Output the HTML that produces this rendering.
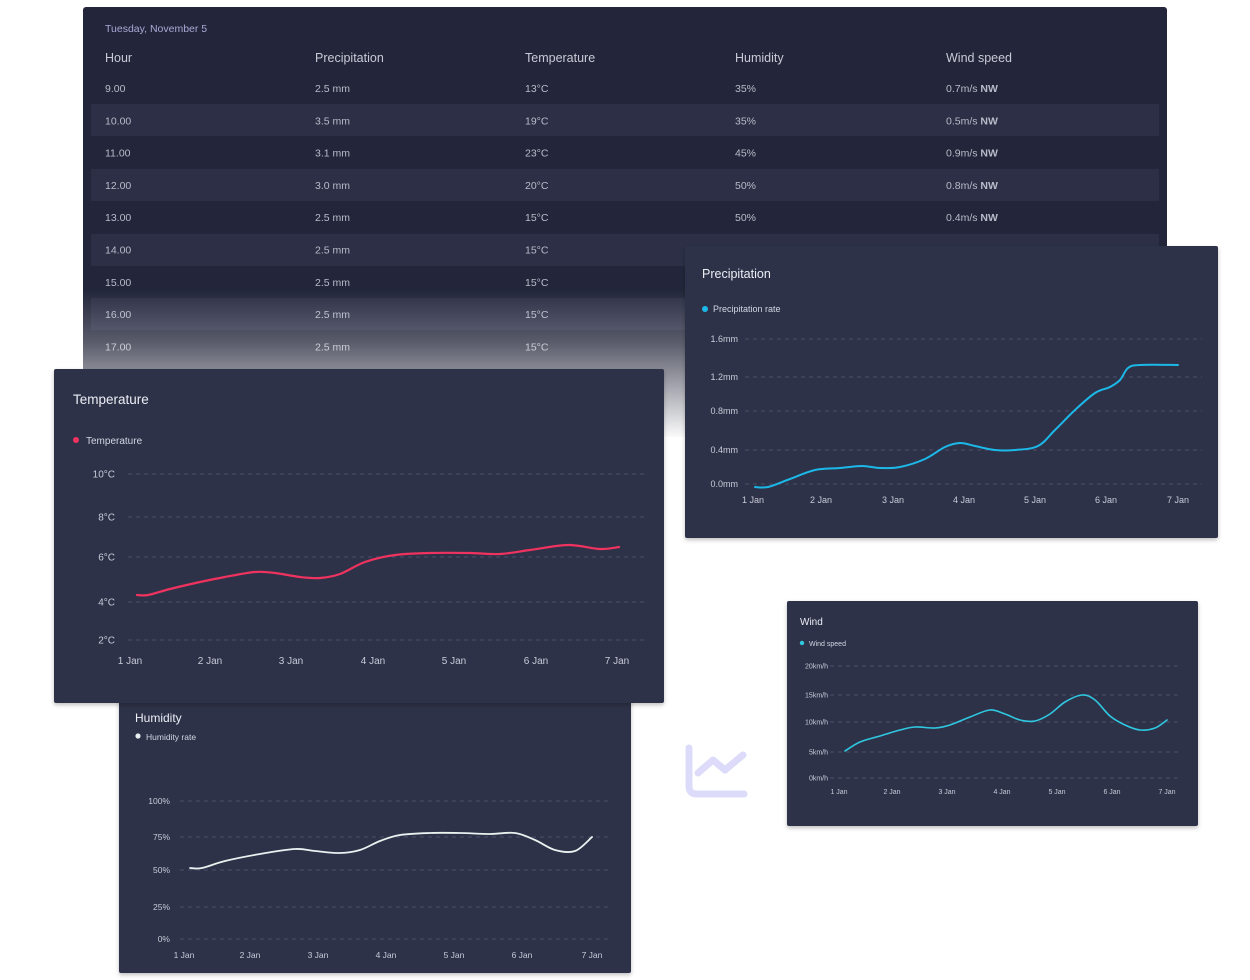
<!DOCTYPE html>
<html><head><meta charset="utf-8"><style>
body{margin:0;background:#fff;width:1250px;height:980px;overflow:hidden}
svg{display:block;font-family:"Liberation Sans",sans-serif}
</style></head><body>
<svg id="s" width="1250" height="980" viewBox="0 0 1250 980" xmlns="http://www.w3.org/2000/svg">
<defs>
<linearGradient id="fade" x1="0" y1="0" x2="0" y2="1">
<stop offset="0" stop-color="#fff" stop-opacity="0"/>
<stop offset="0.35" stop-color="#fff" stop-opacity="0.25"/>
<stop offset="1" stop-color="#fff" stop-opacity="1"/>
</linearGradient>
<filter id="sh" x="-5%" y="-5%" width="110%" height="115%"><feDropShadow dx="0" dy="2" stdDeviation="2" flood-opacity="0.25"/></filter>
</defs>
<!-- table -->
<rect x="83" y="7" width="1084" height="430" rx="3" fill="#23263a"/>
<g fill="#2c2f46">
<rect x="91" y="104" width="1068" height="32"/>
<rect x="91" y="169" width="1068" height="32"/>
<rect x="91" y="234" width="1068" height="32"/>
<rect x="91" y="298" width="1068" height="32"/>
</g>
<text x="105" y="32" font-size="10.5" fill="#a9a8d6">Tuesday, November 5</text>
<g font-size="12.5" fill="#c9cad6">
<text x="105" y="62">Hour</text><text x="315" y="62">Precipitation</text><text x="525" y="62">Temperature</text><text x="735" y="62">Humidity</text><text x="946" y="62">Wind speed</text>
</g>
<g id="rows" font-size="10.5" fill="#b9bbc9"></g>
<rect x="80" y="290" width="1090" height="150" fill="url(#fade)"/>

<!-- precipitation -->
<rect x="685" y="246" width="533" height="292" rx="2" fill="#2e3149" filter="url(#sh)"/>
<text x="702" y="278" font-size="12.5" fill="#eceef4">Precipitation</text>
<circle cx="705" cy="309" r="3" fill="#1bb8e8"/><text x="713" y="312" font-size="9" fill="#d4d6e2">Precipitation rate</text>
<g id="pg"></g>

<!-- humidity -->
<rect x="119" y="688" width="512" height="285" rx="2" fill="#2e3149" filter="url(#sh)"/>
<text x="135" y="722" font-size="12" fill="#eceef4">Humidity</text>
<circle cx="138" cy="736" r="2.6" fill="#e8f0ef"/><text x="146" y="740" font-size="8.5" fill="#d4d6e2">Humidity rate</text>
<g id="hg"></g>

<!-- temperature -->
<rect x="54" y="369" width="610" height="334" rx="2" fill="#2e3149" filter="url(#sh)"/>
<text x="73" y="404" font-size="13.5" fill="#eceef4">Temperature</text>
<circle cx="76" cy="440" r="3" fill="#f0325f"/><text x="86" y="444" font-size="10" fill="#d4d6e2">Temperature</text>
<g id="tg"></g>

<!-- wind -->
<path d="M789 730 A30 40 0 0 1 789 805" stroke="#c8c9d2" stroke-width="6" fill="none" opacity="0.6"/>
<rect x="787" y="601" width="411" height="225" rx="2" fill="#2e3149" filter="url(#sh)"/>
<text x="800" y="625" font-size="10" fill="#eceef4">Wind</text>
<circle cx="802" cy="643" r="2.2" fill="#2ec9e0"/><text x="809" y="646" font-size="7" fill="#d4d6e2">Wind speed</text>
<g id="wg"></g>

<!-- icon -->
<path d="M689 748 V786 Q689 794 697 794 H744 M698 773 L713 760 L725 770 L743 755" stroke="#dcdcfa" stroke-width="7" fill="none" stroke-linecap="round" stroke-linejoin="round"/>
</svg>
<script>
const NS="http://www.w3.org/2000/svg";
function el(p,t,a,txt){const e=document.createElementNS(NS,t);for(const k in a)e.setAttribute(k,a[k]);if(txt!==undefined)e.textContent=txt;p.appendChild(e);return e;}
const rows=[["9.00","2.5 mm","13°C","35%","0.7m/s"],["10.00","3.5 mm","19°C","35%","0.5m/s"],["11.00","3.1 mm","23°C","45%","0.9m/s"],["12.00","3.0 mm","20°C","50%","0.8m/s"],["13.00","2.5 mm","15°C","50%","0.4m/s"],["14.00","2.5 mm","15°C","50%","0.4m/s"],["15.00","2.5 mm","15°C","50%","0.4m/s"],["16.00","2.5 mm","15°C","50%","0.4m/s"],["17.00","2.5 mm","15°C","50%","0.4m/s"]];
const R=document.getElementById("rows"),xs=[105,315,525,735,946];
rows.forEach((r,i)=>{const y=92+i*32.3;r.forEach((v,j)=>{const t=el(R,"text",{x:xs[j],y:y},v);if(j==4){el(t,"tspan",{"font-weight":"bold"}," NW");}});});
function smooth(p){let d="M"+p[0][0]+" "+p[0][1];for(let i=0;i<p.length-1;i++){const p0=p[i-1]||p[i],p1=p[i],p2=p[i+1],p3=p[i+2]||p2;const c1=[p1[0]+(p2[0]-p0[0])/6,p1[1]+(p2[1]-p0[1])/6],c2=[p2[0]-(p3[0]-p1[0])/6,p2[1]-(p3[1]-p1[1])/6];d+=` C${c1[0]} ${c1[1]} ${c2[0]} ${c2[1]} ${p2[0]} ${p2[1]}`;}return d;}
function chart(id,o){const g=document.getElementById(id);
o.y.forEach(([t,y])=>{el(g,"line",{x1:o.gx[0],x2:o.gx[1],y1:y,y2:y,stroke:"#4a4d66","stroke-dasharray":"4 4","stroke-width":1});el(g,"text",{x:o.lx,y:y+o.fs*0.35,"font-size":o.fs,fill:"#c9cbd8","text-anchor":"end"},t);});
o.x.forEach(([t,x])=>el(g,"text",{x:x,y:o.xy,"font-size":o.fs,fill:"#c9cbd8","text-anchor":"middle"},t));
el(g,"path",{d:smooth(o.p),stroke:o.c,"stroke-width":o.sw,fill:"none","stroke-linecap":"round"});}
const J=n=>n+" Jan";
chart("tg",{fs:10,lx:115,xy:664,gx:[128,645],sw:2.2,c:"#f0325f",
y:[["10°C",474],["8°C",517],["6°C",557],["4°C",602],["2°C",640]],
x:[130,210,291,373,454,536,617].map((x,i)=>[J(i+1),x]),
p:[[137,595],[148,595],[170,589],[200,582],[225,577],[255,572],[275,573],[300,577],[320,578],[340,574],[365,562],[395,555],[430,553],[470,553],[500,554],[530,550],[568,545],[600,549],[619,547]]});
chart("pg",{fs:9,lx:738,xy:503,gx:[745,1202],sw:2,c:"#1bb8e8",
y:[["1.6mm",339],["1.2mm",377],["0.8mm",411],["0.4mm",450],["0.0mm",484]],
x:[753,821,893,964,1035,1106,1178].map((x,i)=>[J(i+1),x]),
p:[[755,487],[768,487],[790,479],[815,470],[840,468],[862,466],[880,468],[900,467],[925,459],[945,447],[960,443],[975,446],[995,450],[1015,450],[1038,446],[1055,430],[1075,410],[1095,393],[1110,387],[1120,380],[1128,368],[1140,365],[1178,365]]});
chart("hg",{fs:8.5,lx:170,xy:958,gx:[180,612],sw:1.8,c:"#e8f2ef",
y:[["100%",801],["75%",837],["50%",870],["25%",907],["0%",939]],
x:[184,250,318,386,454,522,592].map((x,i)=>[J(i+1),x]),
p:[[190,868],[202,868],[225,861],[260,854],[295,849],[315,851],[340,853],[360,850],[380,841],[400,835],[430,833],[460,833],[490,834],[515,833],[535,840],[555,850],[575,851],[592,837]]});
chart("wg",{fs:7,lx:828,xy:794,gx:[830,1182],sw:1.6,c:"#2ec9e0",
y:[["20km/h",666],["15km/h",695],["10km/h",722],["5km/h",752],["0km/h",778]],
x:[839,892,947,1002,1057,1112,1167].map((x,i)=>[J(i+1),x]),
p:[[845,751],[860,742],[880,736],[900,730],[915,727],[935,728],[950,725],[970,717],[990,710],[1005,714],[1020,720],[1035,721],[1050,714],[1065,702],[1082,695],[1095,700],[1110,716],[1125,725],[1140,730],[1155,728],[1167,720]]});
</script>
</body></html>
